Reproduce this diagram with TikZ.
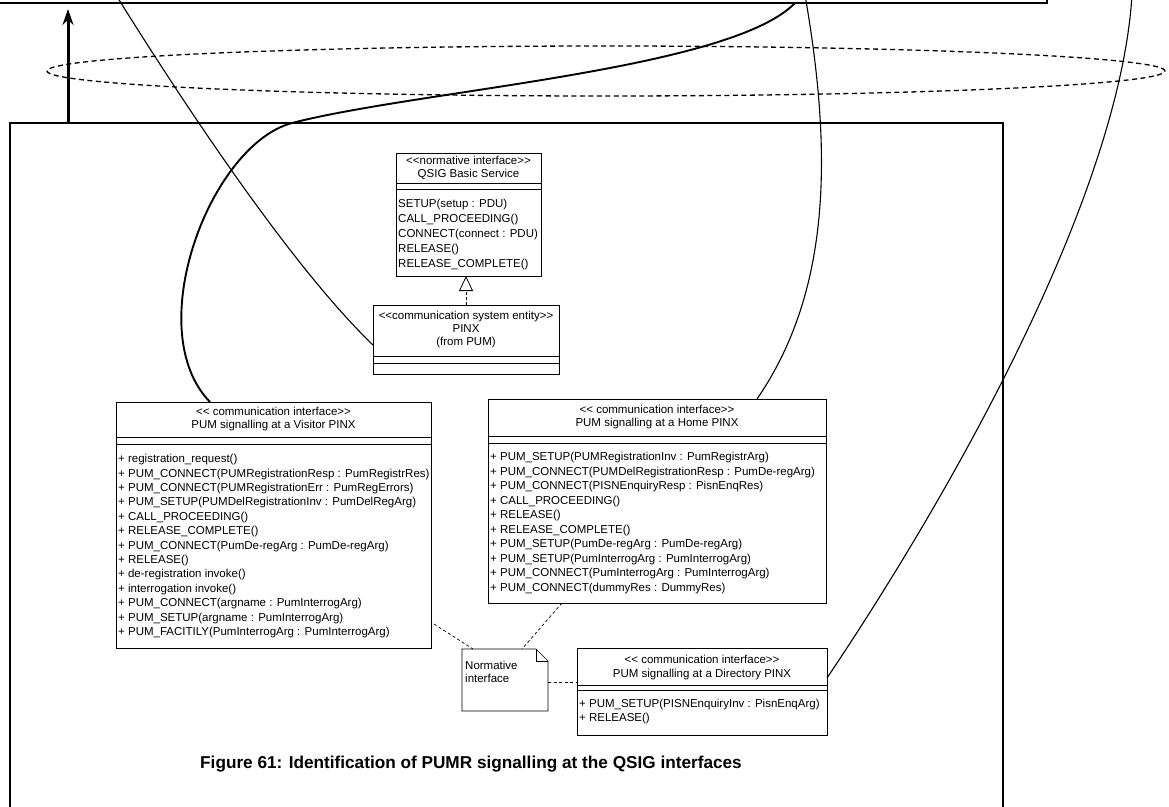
\documentclass[tikz,border=0pt]{standalone}
\usepackage{fontspec}
\setmainfont{Liberation Sans}
\newfontfamily\umlfam{Liberation Sans}
\usetikzlibrary{arrows.meta,calc,shapes.geometric}
\newcommand\ltlt{<\kern0pt<}
\newcommand\gtgt{>\kern0pt>}

\begin{document}
\begin{tikzpicture}[x=1pt,y=-1pt,
  frame/.style={draw, line width=1.8pt, inner sep=0pt, outer sep=0pt, anchor=north west},
  classbox/.style={draw, line width=0.9pt, fill=white, inner sep=0pt, outer sep=0pt, anchor=north west},
  umltext/.style={font=\umlfam\fontsize{11.5}{13}\selectfont, inner sep=0pt, text height=8pt, text depth=2.5pt},
  centred/.style={umltext, anchor=center},
  opline/.style={umltext, anchor=west},
  rule/.style={line width=0.7pt},
  link/.style={line width=1.1pt},
  heavylink/.style={line width=1.9pt},
  notelink/.style={line width=0.7pt, dash pattern=on 3pt off 2.5pt},
]
\useasboundingbox (0,0) rectangle (1169,806);
\begin{scope}
\clip (0,0) rectangle (1169,806);

% outer frames
\node[frame, minimum width=1100pt, minimum height=60pt] (topbox) at (-53,-57) {};
\node[frame, minimum width=993pt, minimum height=720pt] (mainbox) at (10,123) {};

% dashed ring between the frames
\node[draw, ellipse, line width=1.3pt, dash pattern=on 5pt off 3.5pt,
      minimum width=1118pt, minimum height=50pt, inner sep=0pt] (ring) at (606,71) {};

% upward arrow from the lower frame to the upper one
\draw[line width=3pt, -{Stealth[length=16pt, width=11pt]}, shorten >=6pt]
  (68,0 |- mainbox.north) -- (68,0 |- topbox.south);

% start points of the links, inside the upper frame
\coordinate (c1s) at (116,-5);
\coordinate (c2s) at (795,3);
\coordinate (c3s) at (805,-5);
\coordinate (c4s) at (1132,-5);

% class boxes
\node[classbox, minimum width=145pt, minimum height=123pt] (qsig) at (396,153) {};
\node[classbox, minimum width=186pt, minimum height=69pt] (pinx) at (373,305) {};
\node[classbox, minimum width=315pt, minimum height=246pt] (vis) at (116,402) {};
\node[classbox, minimum width=338pt, minimum height=204pt] (home) at (488,399) {};
\node[classbox, minimum width=250pt, minimum height=87pt] (dir) at (577,648) {};
\node[inner sep=0pt, outer sep=0pt, minimum width=86pt, minimum height=62pt, anchor=north west] (note) at (462,649) {};

% links from the upper frame
\draw[link] (c1s) .. controls (200,130) and (300,275) .. (pinx.west |- 0,345);
\draw[heavylink] (c2s) .. controls (730,70) and (420,90) .. (292,123)
  .. controls (210,145) and (140,330) .. (vis.north -| 210,0);
\draw[link] (c3s) .. controls (832,150) and (832,290) .. (home.north -| 757,0);
\draw[link] (c4s) .. controls (1120,190) and (960,480) .. (dir.east |- 0,678);

% QSIG Basic Service
\node[centred] (qsig-st) at ($(qsig.north)+(0,9)$) {\ltlt normative interface\gtgt};
\node[centred] (qsig-nm) at ($(qsig.north)+(0,22)$) {QSIG Basic Service};
\draw[rule] ($(qsig.north west)+(0,30)$) -- ($(qsig.north east)+(0,30)$);
\draw[rule] ($(qsig.north west)+(0,36)$) -- ($(qsig.north east)+(0,36)$);
\foreach \t [count=\i from 0] in {{SETUP(setup : PDU)},{CALL\_PROCEEDING()},{CONNECT(connect : PDU)},{RELEASE()},{RELEASE\_COMPLETE()}}
  \node[opline] (qsig-op\i) at ($(qsig.north west)+(2,52+15*\i)$) {\t};

% PINX
\node[centred] (pinx-st) at ($(pinx.north)+(0,12)$) {\ltlt communication system entity\gtgt};
\node[centred] (pinx-nm) at ($(pinx.north)+(0,25)$) {PINX};
\node[centred] (pinx-fr) at ($(pinx.north)+(0,38)$) {(from PUM)};
\draw[rule] ($(pinx.north west)+(0,51)$) -- ($(pinx.north east)+(0,51)$);
\draw[rule] ($(pinx.north west)+(0,58)$) -- ($(pinx.north east)+(0,58)$);

% realization of the normative interface
\draw[line width=0.7pt, dash pattern=on 3pt off 2pt, -{Triangle[open, length=15pt, width=14pt, line width=0.8pt]}]
  (pinx.north) -- (pinx.north |- qsig.south);

% Visitor PINX
\node[centred] (vis-st) at ($(vis.north)+(0,11)$) {\ltlt{} communication interface\gtgt};
\node[centred] (vis-nm) at ($(vis.north)+(0,24)$) {PUM signalling at a Visitor PINX};
\draw[rule] ($(vis.north west)+(0,35)$) -- ($(vis.north east)+(0,35)$);
\draw[rule] ($(vis.north west)+(0,42)$) -- ($(vis.north east)+(0,42)$);
\foreach \t [count=\i from 0] in {
  {+ registration\_request()},
  {+ PUM\_CONNECT(PUMRegistrationResp : PumRegistrRes)},
  {+ PUM\_CONNECT(PUMRegistrationErr : PumRegErrors)},
  {+ PUM\_SETUP(PUMDelRegistrationInv : PumDelRegArg)},
  {+ CALL\_PROCEEDING()},
  {+ RELEASE\_COMPLETE()},
  {+ PUM\_CONNECT(PumDe-regArg : PumDe-regArg)},
  {+ RELEASE()},
  {+ de-registration invoke()},
  {+ interrogation invoke()},
  {+ PUM\_CONNECT(argname : PumInterrogArg)},
  {+ PUM\_SETUP(argname : PumInterrogArg)},
  {+ PUM\_FACITILY(PumInterrogArg : PumInterrogArg)}}
  \node[opline] (vis-op\i) at ($(vis.north west)+(2,58+14.4*\i)$) {\t};

% Home PINX
\node[centred] (home-st) at ($(home.north)+(0,12)$) {\ltlt{} communication interface\gtgt};
\node[centred] (home-nm) at ($(home.north)+(0,25)$) {PUM signalling at a Home PINX};
\draw[rule] ($(home.north west)+(0,37)$) -- ($(home.north east)+(0,37)$);
\draw[rule] ($(home.north west)+(0,44)$) -- ($(home.north east)+(0,44)$);
\foreach \t [count=\i from 0] in {
  {+ PUM\_SETUP(PUMRegistrationInv : PumRegistrArg)},
  {+ PUM\_CONNECT(PUMDelRegistrationResp : PumDe-regArg)},
  {+ PUM\_CONNECT(PISNEnquiryResp : PisnEnqRes)},
  {+ CALL\_PROCEEDING()},
  {+ RELEASE()},
  {+ RELEASE\_COMPLETE()},
  {+ PUM\_SETUP(PumDe-regArg : PumDe-regArg)},
  {+ PUM\_SETUP(PumInterrogArg : PumInterrogArg)},
  {+ PUM\_CONNECT(PumInterrogArg : PumInterrogArg)},
  {+ PUM\_CONNECT(dummyRes : DummyRes)}}
  \node[opline] (home-op\i) at ($(home.north west)+(2,59+14.5*\i)$) {\t};

% Directory PINX
\node[centred] (dir-st) at ($(dir.north)+(0,13)$) {\ltlt{} communication interface\gtgt};
\node[centred] (dir-nm) at ($(dir.north)+(0,27)$) {PUM signalling at a Directory PINX};
\draw[rule] ($(dir.north west)+(0,37)$) -- ($(dir.north east)+(0,37)$);
\draw[rule] ($(dir.north west)+(0,42)$) -- ($(dir.north east)+(0,42)$);
\node[opline] (dir-op0) at ($(dir.north west)+(2,57)$) {+ PUM\_SETUP(PISNEnquiryInv : PisnEnqArg)};
\node[opline] (dir-op1) at ($(dir.north west)+(2,71)$) {+ RELEASE()};

% note with folded corner
\draw[rule, fill=white] (note.north west) -- ([xshift=-12pt]note.north east)
  -- ([yshift=-12pt]note.north east) -- (note.south east) -- (note.south west) -- cycle;
\draw[rule] ([xshift=-12pt]note.north east) |- ([yshift=-12pt]note.north east);
\node[opline] (note-l1) at ($(note.north west)+(3,18)$) {Normative};
\node[opline] (note-l2) at ($(note.north west)+(3,31)$) {interface};

% note attachments
\draw[notelink] ($(vis.south east)+(3,-24)$) -- ($(note.north west)+(11,0)$);
\draw[notelink] ($(home.south west)+(74,0)$) -- ($(note.north west)+(60,0)$);
\draw[notelink] (note.east |- 0,682) -- (dir.west |- 0,682);

% caption
\node[font=\bfseries\fontsize{17.2}{19}\selectfont, inner sep=0pt] (caption) at (471,764)
  {Figure 61: Identification of PUMR signalling at the QSIG interfaces};
\end{scope}
\end{tikzpicture}
\end{document}
